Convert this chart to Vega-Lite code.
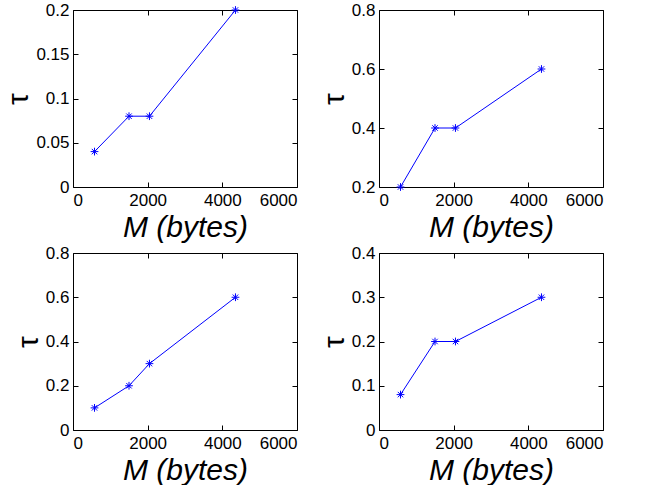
{
  "$schema": "https://vega.github.io/schema/vega-lite/v6.json",
  "background": "white",
  "padding": {"left": 3, "top": 0, "right": 5, "bottom": 0},
  "datasets": {
    "pts": [
      {"panel": 1, "M": 576, "tau": 0.04},
      {"panel": 1, "M": 1500, "tau": 0.08},
      {"panel": 1, "M": 2048, "tau": 0.08},
      {"panel": 1, "M": 4352, "tau": 0.2},
      {"panel": 2, "M": 576, "tau": 0.2},
      {"panel": 2, "M": 1500, "tau": 0.4},
      {"panel": 2, "M": 2048, "tau": 0.4},
      {"panel": 2, "M": 4352, "tau": 0.6},
      {"panel": 3, "M": 576, "tau": 0.1},
      {"panel": 3, "M": 1500, "tau": 0.2},
      {"panel": 3, "M": 2048, "tau": 0.3},
      {"panel": 3, "M": 4352, "tau": 0.6},
      {"panel": 4, "M": 576, "tau": 0.08},
      {"panel": 4, "M": 1500, "tau": 0.2},
      {"panel": 4, "M": 2048, "tau": 0.2},
      {"panel": 4, "M": 4352, "tau": 0.3}
    ]
  },
  "data": {"name": "pts"},
  "columns": 2,
  "spacing": {"row": 66, "column": 82},
  "bounds": "flush",
  "config": {
    "font": "Liberation Sans",
    "view": {"stroke": "black", "strokeWidth": 1},
    "axis": {
      "domain": false,
      "grid": false,
      "ticks": true,
      "tickColor": "black",
      "tickSize": -5,
      "tickWidth": 1,
      "labelFont": "Liberation Sans",
      "labelFontSize": 17,
      "labelColor": "black",
      "labelPadding": 9,
      "titleFont": "Liberation Sans",
      "titleFontSize": 30,
      "titleFontWeight": "normal",
      "titleColor": "black"
    },
    "axisX": {"labelPadding": 10}
  },
  "concat": [
    {
      "width": 224, "height": 177,
      "transform": [{"filter": "datum.panel == 1"}],
      "layer": [
        {
          "mark": {"type": "line", "color": "#0000ff", "strokeWidth": 1},
          "encoding": {
            "x": {"field": "M", "type": "quantitative", "scale": {"domain": [0, 6000]}, "axis": {"orient": "bottom", "values": [0, 2000, 4000, 6000], "format": "d", "title": "M (bytes)", "titleFontStyle": "italic", "titlePadding": 4}},
            "y": {"field": "tau", "type": "quantitative", "scale": {"domain": [0, 0.2]}, "axis": {"orient": "left", "values": [0, 0.05, 0.1, 0.15, 0.2], "format": "~g", "title": "τ", "titlePadding": 2}}
          }
        },
        {
          "mark": {"type": "point", "shape": "M-1,0L1,0M0,-1L0,1M-0.7,-0.7L0.7,0.7M-0.7,0.7L0.7,-0.7", "size": 60, "color": "#0000ff", "filled": false, "strokeWidth": 1, "opacity": 1},
          "encoding": {
            "x": {"field": "M", "type": "quantitative", "scale": {"domain": [0, 6000]}, "axis": {"orient": "top", "values": [0, 2000, 4000, 6000], "labels": false, "title": null}},
            "y": {"field": "tau", "type": "quantitative", "scale": {"domain": [0, 0.2]}, "axis": {"orient": "right", "values": [0, 0.05, 0.1, 0.15, 0.2], "labels": false, "title": null}}
          }
        }
      ],
      "resolve": {"axis": {"x": "independent", "y": "independent"}}
    },
    {
      "width": 224, "height": 177,
      "transform": [{"filter": "datum.panel == 2"}],
      "layer": [
        {
          "mark": {"type": "line", "color": "#0000ff", "strokeWidth": 1},
          "encoding": {
            "x": {"field": "M", "type": "quantitative", "scale": {"domain": [0, 6000]}, "axis": {"orient": "bottom", "values": [0, 2000, 4000, 6000], "format": "d", "title": "M (bytes)", "titleFontStyle": "italic", "titlePadding": 4}},
            "y": {"field": "tau", "type": "quantitative", "scale": {"domain": [0.2, 0.8], "zero": false}, "axis": {"orient": "left", "values": [0.2, 0.4, 0.6, 0.8], "format": "~g", "title": "τ", "titlePadding": 2}}
          }
        },
        {
          "mark": {"type": "point", "shape": "M-1,0L1,0M0,-1L0,1M-0.7,-0.7L0.7,0.7M-0.7,0.7L0.7,-0.7", "size": 60, "color": "#0000ff", "filled": false, "strokeWidth": 1, "opacity": 1},
          "encoding": {
            "x": {"field": "M", "type": "quantitative", "scale": {"domain": [0, 6000]}, "axis": {"orient": "top", "values": [0, 2000, 4000, 6000], "labels": false, "title": null}},
            "y": {"field": "tau", "type": "quantitative", "scale": {"domain": [0.2, 0.8], "zero": false}, "axis": {"orient": "right", "values": [0.2, 0.4, 0.6, 0.8], "labels": false, "title": null}}
          }
        }
      ],
      "resolve": {"axis": {"x": "independent", "y": "independent"}}
    },
    {
      "width": 224, "height": 177,
      "transform": [{"filter": "datum.panel == 3"}],
      "layer": [
        {
          "mark": {"type": "line", "color": "#0000ff", "strokeWidth": 1},
          "encoding": {
            "x": {"field": "M", "type": "quantitative", "scale": {"domain": [0, 6000]}, "axis": {"orient": "bottom", "values": [0, 2000, 4000, 6000], "format": "d", "title": "M (bytes)", "titleFontStyle": "italic", "titlePadding": 4}},
            "y": {"field": "tau", "type": "quantitative", "scale": {"domain": [0, 0.8]}, "axis": {"orient": "left", "values": [0, 0.2, 0.4, 0.6, 0.8], "format": "~g", "title": "τ", "titlePadding": 2}}
          }
        },
        {
          "mark": {"type": "point", "shape": "M-1,0L1,0M0,-1L0,1M-0.7,-0.7L0.7,0.7M-0.7,0.7L0.7,-0.7", "size": 60, "color": "#0000ff", "filled": false, "strokeWidth": 1, "opacity": 1},
          "encoding": {
            "x": {"field": "M", "type": "quantitative", "scale": {"domain": [0, 6000]}, "axis": {"orient": "top", "values": [0, 2000, 4000, 6000], "labels": false, "title": null}},
            "y": {"field": "tau", "type": "quantitative", "scale": {"domain": [0, 0.8]}, "axis": {"orient": "right", "values": [0, 0.2, 0.4, 0.6, 0.8], "labels": false, "title": null}}
          }
        }
      ],
      "resolve": {"axis": {"x": "independent", "y": "independent"}}
    },
    {
      "width": 224, "height": 177,
      "transform": [{"filter": "datum.panel == 4"}],
      "layer": [
        {
          "mark": {"type": "line", "color": "#0000ff", "strokeWidth": 1},
          "encoding": {
            "x": {"field": "M", "type": "quantitative", "scale": {"domain": [0, 6000]}, "axis": {"orient": "bottom", "values": [0, 2000, 4000, 6000], "format": "d", "title": "M (bytes)", "titleFontStyle": "italic", "titlePadding": 4}},
            "y": {"field": "tau", "type": "quantitative", "scale": {"domain": [0, 0.4]}, "axis": {"orient": "left", "values": [0, 0.1, 0.2, 0.3, 0.4], "format": "~g", "title": "τ", "titlePadding": 2}}
          }
        },
        {
          "mark": {"type": "point", "shape": "M-1,0L1,0M0,-1L0,1M-0.7,-0.7L0.7,0.7M-0.7,0.7L0.7,-0.7", "size": 60, "color": "#0000ff", "filled": false, "strokeWidth": 1, "opacity": 1},
          "encoding": {
            "x": {"field": "M", "type": "quantitative", "scale": {"domain": [0, 6000]}, "axis": {"orient": "top", "values": [0, 2000, 4000, 6000], "labels": false, "title": null}},
            "y": {"field": "tau", "type": "quantitative", "scale": {"domain": [0, 0.4]}, "axis": {"orient": "right", "values": [0, 0.1, 0.2, 0.3, 0.4], "labels": false, "title": null}}
          }
        }
      ],
      "resolve": {"axis": {"x": "independent", "y": "independent"}}
    }
  ]
}
